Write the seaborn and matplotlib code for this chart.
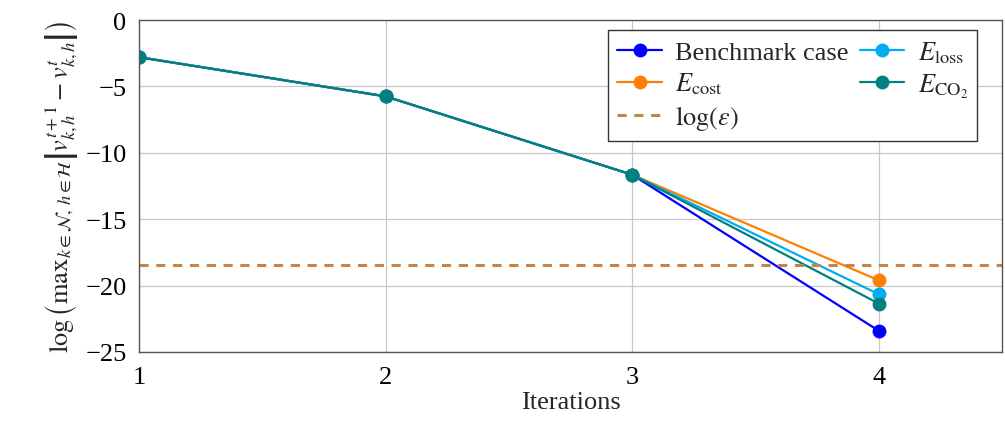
import matplotlib
matplotlib.use("Agg")
import matplotlib.pyplot as plt
import seaborn as sns
import pandas as pd
from matplotlib.lines import Line2D

iterations = [1, 2, 3, 4]
benchmark = [-2.8, -5.75, -11.65, -23.4]
e_cost = [-2.8, -5.75, -11.65, -19.6]
e_loss = [-2.8, -5.75, -11.65, -20.65]
e_co2 = [-2.8, -5.75, -11.65, -21.35]
log_eps = -18.45

labels = ["Benchmark case", r"$E_{\mathrm{cost}}$", r"$E_{\mathrm{loss}}$", r"$E_{\mathrm{CO_2}}$"]
colors = ["#0000FF", "#FF8000", "#00AEEF", "#008080"]
series = [benchmark, e_cost, e_loss, e_co2]

sns.set_theme(style="whitegrid")
plt.rcParams['font.family'] = ['Liberation Serif', 'DejaVu Serif']
plt.rcParams['mathtext.fontset'] = 'stix'

fig = plt.figure(figsize=(10.05, 4.27), dpi=100)
ax = fig.add_axes([139/1005, 74/427, 863/1005, 332/427])

frames = []
for lab, vals in zip(labels, series):
    frames.append(pd.DataFrame({"it": iterations, "val": vals, "series": lab}))
df = pd.concat(frames, ignore_index=True)

handles = {}
for lab, col in zip(labels, colors):
    sub = df[df["series"] == lab]
    sns.lineplot(data=sub, x="it", y="val", color=col, marker="o", markersize=10,
                 markeredgewidth=0, linewidth=1.6, ax=ax, legend=False)
    handles[lab] = Line2D([], [], color=col, marker="o", markersize=10, markeredgewidth=0, linewidth=1.6)

eps_col = "#C4844A"
ax.axhline(log_eps, color=eps_col, linestyle=(0, (3, 2.5)), linewidth=2.2)
eps_handle = Line2D([], [], color=eps_col, linestyle=(0, (3, 2.5)), linewidth=2.2)

ax.set_xlim(1, 4.5)
ax.set_ylim(-25, 0)
ax.set_xticks([1, 2, 3, 4])
ax.set_yticks([0, -5, -10, -15, -20, -25])
ax.set_yticklabels(["0", "−5", "−10", "−15", "−20", "−25"])
ax.tick_params(labelsize=19, direction="in", length=4, colors="#333333", labelcolor="black")
ax.tick_params(axis="y", pad=9)
ax.tick_params(axis="x", pad=10)
ax.grid(True, color="#C8C8C8", linewidth=0.9)
ax.set_facecolor("white")
for s in ax.spines.values():
    s.set_visible(True)
    s.set_color("#555555")
    s.set_linewidth(1.0)

ax.set_xlabel("Iterations", fontsize=19, labelpad=2)
ax.set_ylabel(r"$\log\left(\mathrm{max}_{k\in\mathcal{N},\,h\in\mathcal{H}}\left|v_{k,h}^{t+1}-v_{k,h}^{t}\right|\right)$",
              fontsize=19, labelpad=4)

h = [handles[labels[0]], handles[labels[1]], eps_handle, handles[labels[2]], handles[labels[3]]]
l = [labels[0], labels[1], r"$\log(\varepsilon)$", labels[2], labels[3]]
leg = ax.legend(h, l, ncol=2, loc="upper right", bbox_to_anchor=(0.971, 0.970), fontsize=19,
                frameon=True, fancybox=False, edgecolor="#333333", framealpha=1,
                handlelength=1.7, columnspacing=0.4, handletextpad=0.5, labelspacing=0.25,
                borderpad=0.35, borderaxespad=0)
leg.get_frame().set_linewidth(1.0)

fig.savefig("out.png", dpi=100)
